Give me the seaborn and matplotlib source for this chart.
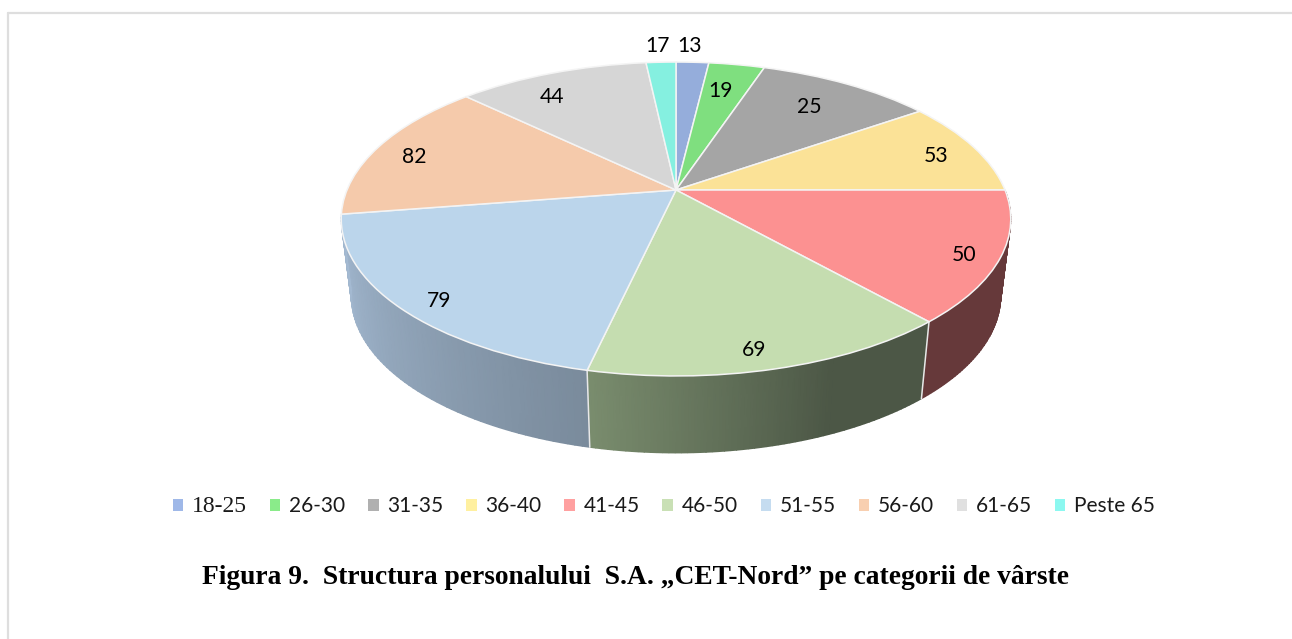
import numpy as np
import matplotlib
matplotlib.use('Agg')
import matplotlib.pyplot as plt
import matplotlib.transforms as mtransforms
from matplotlib.patches import Patch
import seaborn as sns

# legend categories and the numbers printed on the slices
categorii = ['18-25', '26-30', '31-35', '36-40', '41-45', '46-50', '51-55', '56-60', '61-65', 'Peste 65']
etichete = [13, 19, 25, 53, 50, 69, 79, 82, 44, 17]
# the drawn slices do not follow the printed numbers, so their sizes (degrees) are read off the picture
felii = [6.8, 11.6, 36.6, 35.0, 48.5, 54.3, 68.3, 52.9, 39.8, 6.2]
raza_eticheta = [1.17, 0.77, 0.77, 0.86, 0.90, 0.90, 0.90, 0.865, 0.82, 1.17]
unghi_eticheta = [2.5, 11.5, 36.0, 73.7, 115.4, 167.2, 225.0, 286.0, 328.7, 356.7]

culori = ['#95addb', '#7fdf7f', '#a5a5a5', '#fbe297', '#fc9191', '#c5ddb0', '#bbd5eb', '#f5caab', '#d6d6d6', '#85f0e0']
culori_legenda = ['#9fb8e8', '#8aeb8a', '#b0b0b0', '#fff0a0', '#ffa0a0', '#c9e0b5', '#c5dcf0', '#f8cfb0', '#e0e0e0', '#8cf8f0']
# side wall shades, from the start of the slice to its end (only these slices show a wall)
pereti = {4: ['#66393a', '#66393a'],
          5: ['#4c5746', '#4c5746', '#63725a', '#7a8d6e'],
          6: ['#7a8b9c', '#a5bbd3']}

titlu = 'Figura 9.  Structura personalului  S.A. „CET-Nord” pe categorii de vârste'

# tilted disc geometry in pixels
CX, CY = 676, 190
K, A, C = 329.0, 151.6, 0.1847
INALTIME = 77
SCARA_JOS = 0.97


def proiectie(x, y):
    w = 1 + C * y
    return CX + K * x / w, CY - A * y / w


class Perspectiva(mtransforms.Transform):
    input_dims = 2
    output_dims = 2

    def transform_non_affine(self, values):
        px, py = proiectie(values[:, 0], values[:, 1])
        return np.column_stack([px, py])


sns.set_theme(style='white')
plt.rcParams['font.family'] = ['Lato', 'DejaVu Sans']

fig, ax = plt.subplots(figsize=(12.92, 6.39), dpi=100)
fig.subplots_adjust(0, 0, 1, 1)

wedges, _ = ax.pie(felii, colors=sns.color_palette(culori), startangle=90, counterclock=False,
                   wedgeprops={'edgecolor': '#f4f4f4', 'linewidth': 1.1})
ax.set_aspect('auto')
ax.set_xlim(0, 1292)
ax.set_ylim(639, 0)
ax.axis('off')
for w in wedges:
    w.set_transform(Perspectiva() + ax.transData)
    w.set_zorder(5)

limite = np.concatenate([[0], np.cumsum(felii)])
limite = limite * 360 / limite[-1]

# walls as smooth meshes, the shade moves along the slice
for i, nuante in pereti.items():
    n = 60
    t = np.radians(np.linspace(limite[i], limite[i + 1], n + 1))
    sx, sy = proiectie(np.sin(t), np.cos(t))
    jx = CX + (sx - CX) * SCARA_JOS
    jy = sy + INALTIME
    pal = np.array(sns.blend_palette(nuante, n + 1))[:, :3]
    ax.pcolormesh(np.vstack([sx, jx]), np.vstack([sy, jy]), np.stack([pal, pal]),
                  shading='gouraud', zorder=2)

# light seams between the walls
for i in [5, 6]:
    t = np.radians(limite[i])
    sx, sy = proiectie(np.sin(t), np.cos(t))
    ax.plot([sx, CX + (sx - CX) * SCARA_JOS], [sy, sy + INALTIME], color='#e8e8e8', lw=1.1, zorder=3)

# data labels
for val, u, r in zip(etichete, np.radians(unghi_eticheta), raza_eticheta):
    lx, ly = proiectie(r * np.sin(u), r * np.cos(u))
    ax.text(lx, ly + 1.5, str(val), ha='center', va='center', fontsize=15.2, color='black', zorder=6)

handles = [Patch(facecolor=c, edgecolor='none') for c in culori_legenda]
leg = ax.legend(handles, categorii, ncol=10, loc='center', bbox_to_anchor=(664 / 1292, 1 - 507 / 639),
                frameon=False, fontsize=15, handlelength=0.5, handleheight=0.5,
                handletextpad=0.42, columnspacing=1.095, labelcolor='#1a1a1a')
leg.get_texts()[0].set_family('Liberation Serif')
leg.get_texts()[0].set_fontsize(17)

# frame of the page, only top and left are visible
ax.plot([8, 1292], [13, 13], color='#dedede', lw=1.6, clip_on=False)
ax.plot([8, 8], [13, 639], color='#dedede', lw=1.6, clip_on=False)

ax.text(635, 578, titlu, ha='center', va='center', fontsize=19.8, fontweight='bold',
        family='Liberation Serif', color='black')

fig.savefig('out.png', dpi=100)
